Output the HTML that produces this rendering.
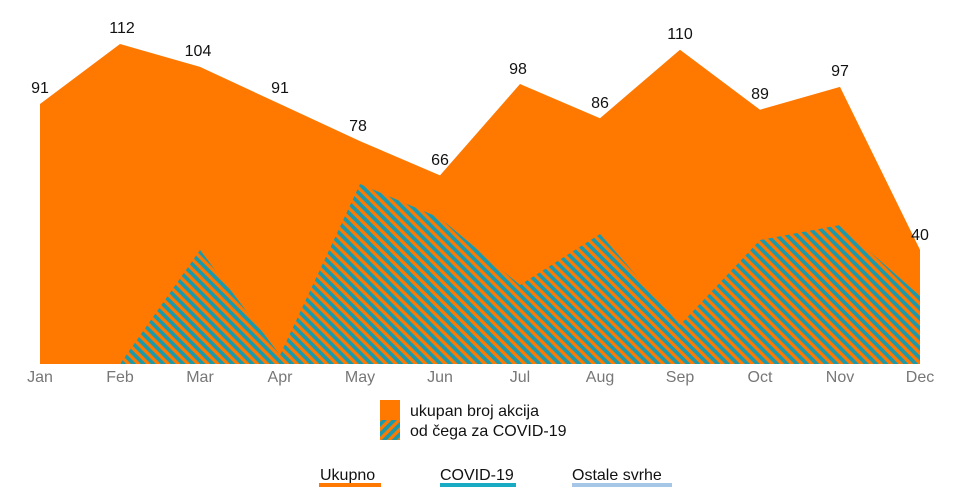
<!DOCTYPE html>
<html><head><meta charset="utf-8"><style>
html,body{margin:0;padding:0;background:#fff;}
svg{display:block;font-family:"Liberation Sans",sans-serif;}
</style></head><body>
<svg width="960" height="500" viewBox="0 0 960 500">
<defs>
<pattern id="h" patternUnits="userSpaceOnUse" width="7" height="7" patternTransform="rotate(45)">
<rect width="7" height="7" fill="#ff7900"/>
<rect width="7" height="3.7" fill="#1a9aaa"/>
</pattern>
<pattern id="h2" patternUnits="userSpaceOnUse" width="7" height="7" patternTransform="rotate(-45)">
<rect width="7" height="7" fill="#ff7900"/>
<rect width="7" height="3.7" fill="#1a9aaa"/>
</pattern>
</defs>
<polygon fill="#ff7900" points="40,364 40,104 120,44 200,66.9 280,104 360,141.1 440,175.4 520,84 600,118.3 680,49.7 760,109.7 840,86.9 920,249.7 920,364"/>
<polygon fill="url(#h)" points="40,364 120,364 200,250 280,355 360,184 440,218 520,285 600,234 680,325 760,240 840,225 920,296 920,364"/>
<g font-size="16" fill="#111" text-anchor="middle">
<text x="40" y="93">91</text>
<text x="122" y="33">112</text>
<text x="198" y="56">104</text>
<text x="280" y="93">91</text>
<text x="358" y="131">78</text>
<text x="440" y="165">66</text>
<text x="518" y="74">98</text>
<text x="600" y="108">86</text>
<text x="680" y="39">110</text>
<text x="760" y="99">89</text>
<text x="840" y="76">97</text>
<text x="920" y="240">40</text>
</g>
<g font-size="16" fill="#777" text-anchor="middle">
<text x="40" y="382">Jan</text><text x="120" y="382">Feb</text><text x="200" y="382">Mar</text><text x="280" y="382">Apr</text>
<text x="360" y="382">May</text><text x="440" y="382">Jun</text><text x="520" y="382">Jul</text><text x="600" y="382">Aug</text>
<text x="680" y="382">Sep</text><text x="760" y="382">Oct</text><text x="840" y="382">Nov</text><text x="920" y="382">Dec</text>
</g>
<rect x="380" y="400" width="20" height="20" fill="#ff7900"/>
<rect x="380" y="420" width="20" height="20" fill="url(#h2)"/>
<g font-size="16" fill="#111">
<text x="410" y="416">ukupan broj akcija</text>
<text x="410" y="436">od čega za COVID-19</text>
<text x="320" y="480">Ukupno</text>
<text x="440" y="480">COVID-19</text>
<text x="572" y="480">Ostale svrhe</text>
</g>
<rect x="319" y="483" width="62" height="4" fill="#ff7900"/>
<rect x="440" y="483" width="76" height="4" fill="#19aac4"/>
<rect x="572" y="483" width="100" height="4" fill="#a6c6e8"/>
</svg>
</body></html>
